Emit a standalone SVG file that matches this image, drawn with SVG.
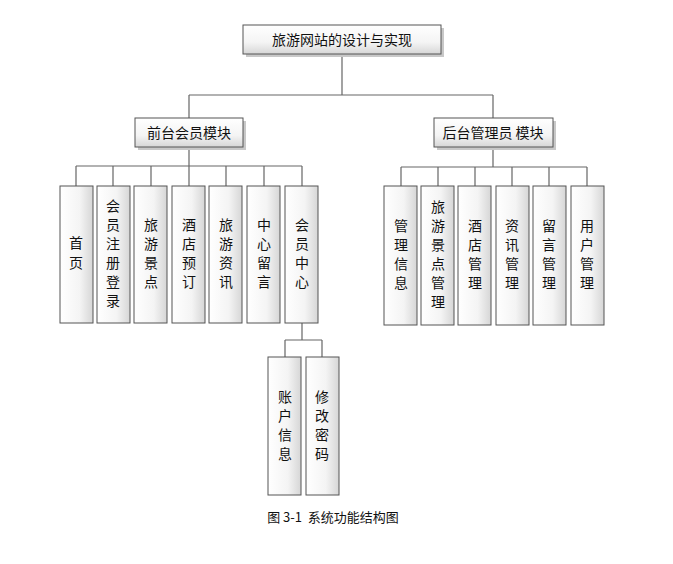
<svg xmlns="http://www.w3.org/2000/svg" width="673" height="564" viewBox="0 0 673 564">
<defs>
<linearGradient id="g" x1="0" y1="0" x2="1" y2="0"><stop offset="0" stop-color="#ffffff"/><stop offset="0.6" stop-color="#f4f4f4"/><stop offset="1" stop-color="#d6d6d6"/></linearGradient>
<linearGradient id="gh" x1="0" y1="0" x2="0" y2="1"><stop offset="0" stop-color="#ffffff"/><stop offset="0.6" stop-color="#f4f4f4"/><stop offset="1" stop-color="#d6d6d6"/></linearGradient>
</defs>
<style>
.b{fill:url(#g);stroke:#555;stroke-width:1}
.h{fill:url(#gh);stroke:#555;stroke-width:1}
.s{fill:#c8c8c8}
.t{font-family:"Noto Sans CJK SC","Liberation Sans",sans-serif;font-size:14px;fill:#111;text-anchor:middle}
.c{fill:none;stroke:#666;stroke-width:1.2}
</style>
<rect width="673" height="564" fill="#fff"/>
<g id="connectors">
<path class="c" d="M342 54V95M189 95H493M189 95V118M493 95V118"/>
<path class="c" d="M189 147V166M76 166H302M76 166V186M113 166V186M151 166V186M189 166V186M226 166V186M264 166V186M302 166V186"/>
<path class="c" d="M493 147V167M401 167H587M401 167V186M438 167V186M475 167V186M512 167V186M549 167V186M587 167V186"/>
<path class="c" d="M302 323V340M285 340H322M285 340V357M322 340V357"/>
</g>
<g id="root"><rect class="s" x="246" y="28" width="198" height="29"/><rect class="h" x="243" y="25" width="198" height="29"/><text class="t" x="342" y="45">旅游网站的设计与实现</text></g>
<g id="front"><rect class="s" x="138" y="121" width="108" height="29"/><rect class="h" x="135" y="118" width="108" height="29"/><text class="t" x="189" y="138">前台会员模块</text></g>
<g id="back"><rect class="s" x="437" y="121" width="119" height="29"/><rect class="h" x="434" y="118" width="119" height="29"/><text class="t" x="493" y="138">后台管理员 模块</text></g>
<g id="l1"><rect class="b" x="60" y="186" width="33" height="137"/><text class="t" x="76" y="248">首</text><text class="t" x="76" y="268">页</text></g>
<g id="l2"><rect class="b" x="97" y="186" width="33" height="137"/><text class="t" x="113" y="211">会</text><text class="t" x="113" y="230">员</text><text class="t" x="113" y="249">注</text><text class="t" x="113" y="268">册</text><text class="t" x="113" y="287">登</text><text class="t" x="113" y="306">录</text></g>
<g id="l3"><rect class="b" x="134" y="186" width="33" height="137"/><text class="t" x="151" y="230">旅</text><text class="t" x="151" y="249">游</text><text class="t" x="151" y="268">景</text><text class="t" x="151" y="287">点</text></g>
<g id="l4"><rect class="b" x="172" y="186" width="33" height="137"/><text class="t" x="189" y="230">酒</text><text class="t" x="189" y="249">店</text><text class="t" x="189" y="268">预</text><text class="t" x="189" y="287">订</text></g>
<g id="l5"><rect class="b" x="209" y="186" width="33" height="137"/><text class="t" x="226" y="230">旅</text><text class="t" x="226" y="249">游</text><text class="t" x="226" y="268">资</text><text class="t" x="226" y="287">讯</text></g>
<g id="l6"><rect class="b" x="247" y="186" width="33" height="137"/><text class="t" x="264" y="230">中</text><text class="t" x="264" y="249">心</text><text class="t" x="264" y="268">留</text><text class="t" x="264" y="287">言</text></g>
<g id="l7"><rect class="b" x="285" y="186" width="33" height="137"/><text class="t" x="302" y="230">会</text><text class="t" x="302" y="249">员</text><text class="t" x="302" y="268">中</text><text class="t" x="302" y="287">心</text></g>
<g id="r1"><rect class="b" x="384" y="186" width="33" height="139"/><text class="t" x="401" y="231">管</text><text class="t" x="401" y="250">理</text><text class="t" x="401" y="269">信</text><text class="t" x="401" y="288">息</text></g>
<g id="r2"><rect class="b" x="421" y="186" width="33" height="139"/><text class="t" x="438" y="212">旅</text><text class="t" x="438" y="231">游</text><text class="t" x="438" y="250">景</text><text class="t" x="438" y="269">点</text><text class="t" x="438" y="288">管</text><text class="t" x="438" y="307">理</text></g>
<g id="r3"><rect class="b" x="458" y="186" width="33" height="139"/><text class="t" x="475" y="231">酒</text><text class="t" x="475" y="250">店</text><text class="t" x="475" y="269">管</text><text class="t" x="475" y="288">理</text></g>
<g id="r4"><rect class="b" x="496" y="186" width="33" height="139"/><text class="t" x="512" y="231">资</text><text class="t" x="512" y="250">讯</text><text class="t" x="512" y="269">管</text><text class="t" x="512" y="288">理</text></g>
<g id="r5"><rect class="b" x="533" y="186" width="33" height="139"/><text class="t" x="549" y="231">留</text><text class="t" x="549" y="250">言</text><text class="t" x="549" y="269">管</text><text class="t" x="549" y="288">理</text></g>
<g id="r6"><rect class="b" x="571" y="186" width="33" height="139"/><text class="t" x="587" y="231">用</text><text class="t" x="587" y="250">户</text><text class="t" x="587" y="269">管</text><text class="t" x="587" y="288">理</text></g>
<g id="m1"><rect class="b" x="268" y="357" width="33" height="138"/><text class="t" x="285" y="402">账</text><text class="t" x="285" y="421">户</text><text class="t" x="285" y="440">信</text><text class="t" x="285" y="459">息</text></g>
<g id="m2"><rect class="b" x="306" y="357" width="33" height="138"/><text class="t" x="322" y="402">修</text><text class="t" x="322" y="421">改</text><text class="t" x="322" y="440">密</text><text class="t" x="322" y="459">码</text></g>
<text x="333" y="522" xml:space="preserve" style="font-family:'Noto Sans CJK SC',sans-serif;font-size:13px;fill:#111;text-anchor:middle;white-space:pre">图 3-1  系统功能结构图</text>
</svg>
